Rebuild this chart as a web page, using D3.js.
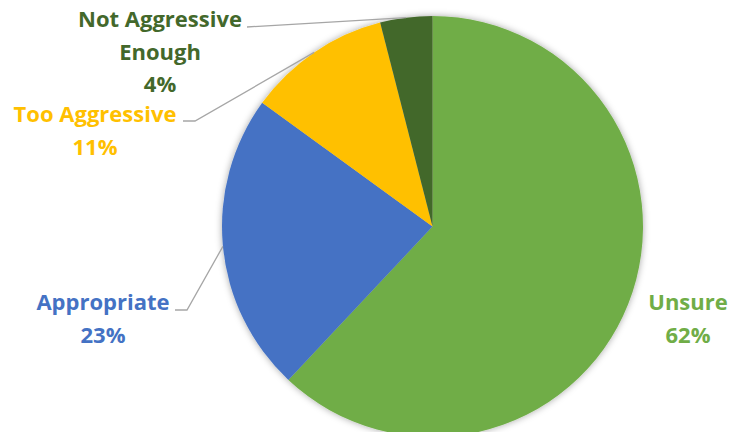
<!DOCTYPE html>
<html>
<head>
<meta charset="utf-8">
<script src="https://cdn.jsdelivr.net/npm/d3@7"></script>
<style>
  html, body { margin: 0; padding: 0; background: #fff; }
  svg { display: block; }
  text { font-family: "Open Sans", "Noto Sans", sans-serif; font-weight: 700; }
</style>
</head>
<body>
<svg id="chart" width="729" height="432"></svg>
<script>
// Survey answers, clockwise from 12 o'clock
const categories = ["Unsure", "Appropriate", "Too Aggressive", "Not Aggressive Enough"];
const shares = [62, 23, 11, 4];
const colors = ["#70AD47", "#4472C4", "#FFC000", "#43682B"];
// Label text lines (category name split as drawn)
const labelLines = [["Unsure"], ["Appropriate"], ["Too Aggressive"], ["Not Aggressive", "Enough"]];

const W = 729, H = 432;
const cx = 432.5, cy = 226.5, R = 210.5;

const svg = d3.select("#chart");

const defs = svg.append("defs");
const shadow = defs.append("filter").attr("id", "pieShadow")
  .attr("x", "-10%").attr("y", "-10%").attr("width", "120%").attr("height", "120%");
shadow.append("feDropShadow")
  .attr("dx", 0).attr("dy", 0).attr("stdDeviation", 3.5)
  .attr("flood-color", "#000").attr("flood-opacity", 0.35);

const data = categories.map((c, i) => ({ name: c, value: shares[i], color: colors[i], lines: labelLines[i] }));

const pie = d3.pie().value(d => d.value).sort(null);
const arcs = pie(data);
const arc = d3.arc().innerRadius(0).outerRadius(R);

const g = svg.append("g").attr("transform", `translate(${cx},${cy})`);

g.append("g").attr("filter", "url(#pieShadow)")
  .selectAll("path").data(arcs).join("path")
  .attr("d", arc)
  .attr("fill", d => d.data.color);

// Label placement (center x, first baseline) and leader line elbow, in page coords
const labelLayout = {
  "Unsure": { x: 688, y: 310, leader: null },
  "Appropriate": { x: 103, y: 310, leader: [[175, 310], [187, 310]] },
  "Too Aggressive": { x: 95, y: 122, leader: [[183, 121], [195, 121]] },
  "Not Aggressive Enough": { x: 160, y: 27, leader: [[247, 27]] }
};
const lineStep = 32.5;
const fontSize = 22;

const labels = svg.append("g");
arcs.forEach(a => {
  const L = labelLayout[a.data.name];
  const mid = (a.startAngle + a.endAngle) / 2;
  if (L.leader) {
    const edge = [cx + R * Math.sin(mid), cy - R * Math.cos(mid)];
    const pts = L.leader.concat([edge]);
    labels.append("path")
      .attr("d", d3.line()(pts))
      .attr("fill", "none")
      .attr("stroke", "#A6A6A6")
      .attr("stroke-width", 1.3);
  }
  const t = labels.append("text")
    .attr("text-anchor", "middle")
    .attr("fill", a.data.color)
    .attr("font-size", fontSize);
  const lines = a.data.lines.concat([a.data.value + "%"]);
  lines.forEach((ln, i) => {
    t.append("tspan").attr("x", L.x).attr("y", L.y + i * lineStep).text(ln);
  });
});
</script>
</body>
</html>
